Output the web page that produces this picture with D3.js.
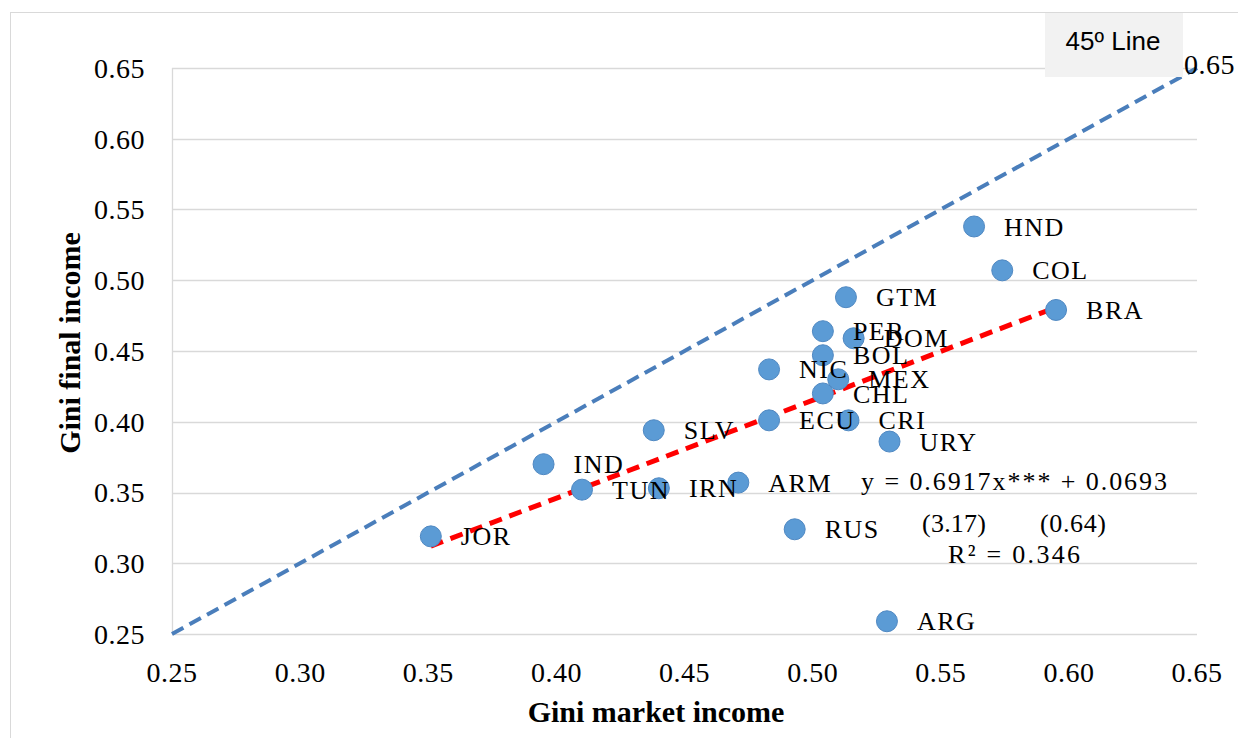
<!DOCTYPE html>
<html>
<head>
<meta charset="utf-8">
<script src="https://cdn.jsdelivr.net/npm/d3@7"></script>
<style>
  body { margin: 0; background: #fff; }
  text { font-family: "Liberation Serif", "Times New Roman", serif; fill: #000; }
</style>
</head>
<body>
<div id="chart"></div>
<script>
// countries and their Gini coefficients (market vs final income)
var countries = ["JOR", "IND", "TUN", "IRN", "SLV", "ARM", "ECU", "NIC", "RUS", "PER", "BOL", "CHL",
                 "MEX", "DOM", "GTM", "CRI", "URY", "ARG", "HND", "COL", "BRA"];
var giniMarket = [0.351, 0.395, 0.410, 0.440, 0.438, 0.471, 0.483, 0.483, 0.493, 0.504, 0.504, 0.504,
                  0.510, 0.516, 0.513, 0.514, 0.530, 0.529, 0.563, 0.574, 0.595];
var giniFinal  = [0.319, 0.370, 0.352, 0.353, 0.394, 0.357, 0.401, 0.437, 0.324, 0.464, 0.447, 0.420,
                  0.430, 0.459, 0.488, 0.401, 0.386, 0.259, 0.538, 0.507, 0.479];
var tickValues = [0.25, 0.30, 0.35, 0.40, 0.45, 0.50, 0.55, 0.60, 0.65];
var slope = 0.6917, intercept = 0.0693;

var width = 1238, height = 738;
var margin = {top: 68, right: 41, bottom: 104, left: 172};

var svg = d3.select("#chart").append("svg")
    .attr("width", width)
    .attr("height", height);

// outer chart border
svg.append("rect")
    .attr("x", 10.5).attr("y", 12.5)
    .attr("width", 1240).attr("height", 760)
    .attr("fill", "none")
    .attr("stroke", "#d9d9d9");

var x = d3.scaleLinear().domain([0.25, 0.65]).range([margin.left, width - margin.right]);
var y = d3.scaleLinear().domain([0.25, 0.65]).range([height - margin.bottom, margin.top]);

// horizontal gridlines
svg.append("g")
    .selectAll("line")
    .data(tickValues)
    .enter().append("line")
    .attr("x1", x(0.25)).attr("x2", x(0.65))
    .attr("y1", function(d) { return Math.round(y(d)) + 0.5; })
    .attr("y2", function(d) { return Math.round(y(d)) + 0.5; })
    .attr("stroke", "#d9d9d9")
    .attr("stroke-width", 1.3);

// y axis line
svg.append("line")
    .attr("x1", x(0.25) + 0.5).attr("x2", x(0.25) + 0.5)
    .attr("y1", y(0.65)).attr("y2", y(0.25))
    .attr("stroke", "#d9d9d9")
    .attr("stroke-width", 1.3);

// tick labels
svg.append("g")
    .selectAll("text")
    .data(tickValues)
    .enter().append("text")
    .attr("x", 145)
    .attr("y", function(d) { return y(d); })
    .attr("dy", "0.35em")
    .attr("text-anchor", "end")
    .style("font-size", "28px")
    .style("letter-spacing", "0.5px")
    .text(function(d) { return d3.format(".2f")(d); });

svg.append("g")
    .selectAll("text")
    .data(tickValues)
    .enter().append("text")
    .attr("x", function(d) { return x(d); })
    .attr("y", 682)
    .attr("text-anchor", "middle")
    .style("font-size", "28px")
    .style("letter-spacing", "0.5px")
    .text(function(d) { return d3.format(".2f")(d); });

// axis titles
svg.append("text")
    .attr("x", 656).attr("y", 722)
    .attr("text-anchor", "middle")
    .style("font-size", "30px")
    .style("font-weight", "bold")
    .text("Gini market income");

svg.append("text")
    .attr("transform", "translate(80,343)rotate(-90)")
    .attr("text-anchor", "middle")
    .style("font-size", "30px")
    .style("font-weight", "bold")
    .text("Gini final income");

// 45 degree line
svg.append("line")
    .attr("x1", x(0.25)).attr("y1", y(0.25))
    .attr("x2", x(0.65)).attr("y2", y(0.65))
    .attr("stroke", "#4a7ebb")
    .attr("stroke-width", 4)
    .attr("stroke-dasharray", "13,7");

// trend line over the range of the data
var xMin = d3.min(giniMarket), xMax = d3.max(giniMarket);
svg.append("line")
    .attr("x1", x(xMin)).attr("y1", y(slope * xMin + intercept))
    .attr("x2", x(xMax)).attr("y2", y(slope * xMax + intercept))
    .attr("stroke", "#ff0000")
    .attr("stroke-width", 5)
    .attr("stroke-dasharray", "13,8");

// points
var pts = countries.map(function(c, i) { return {name: c, mx: giniMarket[i], fy: giniFinal[i]}; });

svg.append("g")
    .selectAll("circle")
    .data(pts)
    .enter().append("circle")
    .attr("cx", function(d) { return x(d.mx); })
    .attr("cy", function(d) { return y(d.fy); })
    .attr("r", 10.5)
    .attr("fill", "#5b9bd5")
    .attr("stroke", "#4f88c2")
    .attr("stroke-width", 1);

svg.append("g")
    .selectAll("text")
    .data(pts)
    .enter().append("text")
    .attr("x", function(d) { return x(d.mx) + 30; })
    .attr("y", function(d) { return y(d.fy); })
    .attr("dy", "0.35em")
    .style("font-size", "26px")
    .style("letter-spacing", "1.5px")
    .text(function(d) { return d.name; });

// legend box for the 45 degree line
svg.append("rect")
    .attr("x", 1045).attr("y", 13)
    .attr("width", 138).attr("height", 64)
    .attr("fill", "#f2f2f2");
svg.append("text")
    .attr("x", 1113).attr("y", 50)
    .attr("text-anchor", "middle")
    .style("font-family", "'Liberation Sans', Arial, sans-serif")
    .style("font-size", "26px")
    .text("45º Line");

// end label of the 45 degree line
svg.append("text")
    .attr("x", 1184).attr("y", y(0.65))
    .attr("dy", "0.2em")
    .style("font-size", "28px")
    .style("letter-spacing", "0.5px")
    .text("0.65");

// regression equation
var eqLines = [
  {t: "y = 0.6917x*** + 0.0693", cx: 1014, cy: 481, w: 306},
  {t: "(3.17)", cx: 954, cy: 523, w: 64},
  {t: "(0.64)", cx: 1073, cy: 523, w: 66},
  {t: "R² = 0.346", cx: 1014, cy: 554, w: 132}
];
svg.append("g")
    .selectAll("text")
    .data(eqLines)
    .enter().append("text")
    .attr("x", function(d) { return d.cx - d.w / 2; })
    .attr("y", function(d) { return d.cy; })
    .attr("dy", "0.35em")
    .attr("textLength", function(d) { return d.w; })
    .attr("lengthAdjust", "spacing")
    .style("font-size", "26px")
    .text(function(d) { return d.t; });
</script>
</body>
</html>
